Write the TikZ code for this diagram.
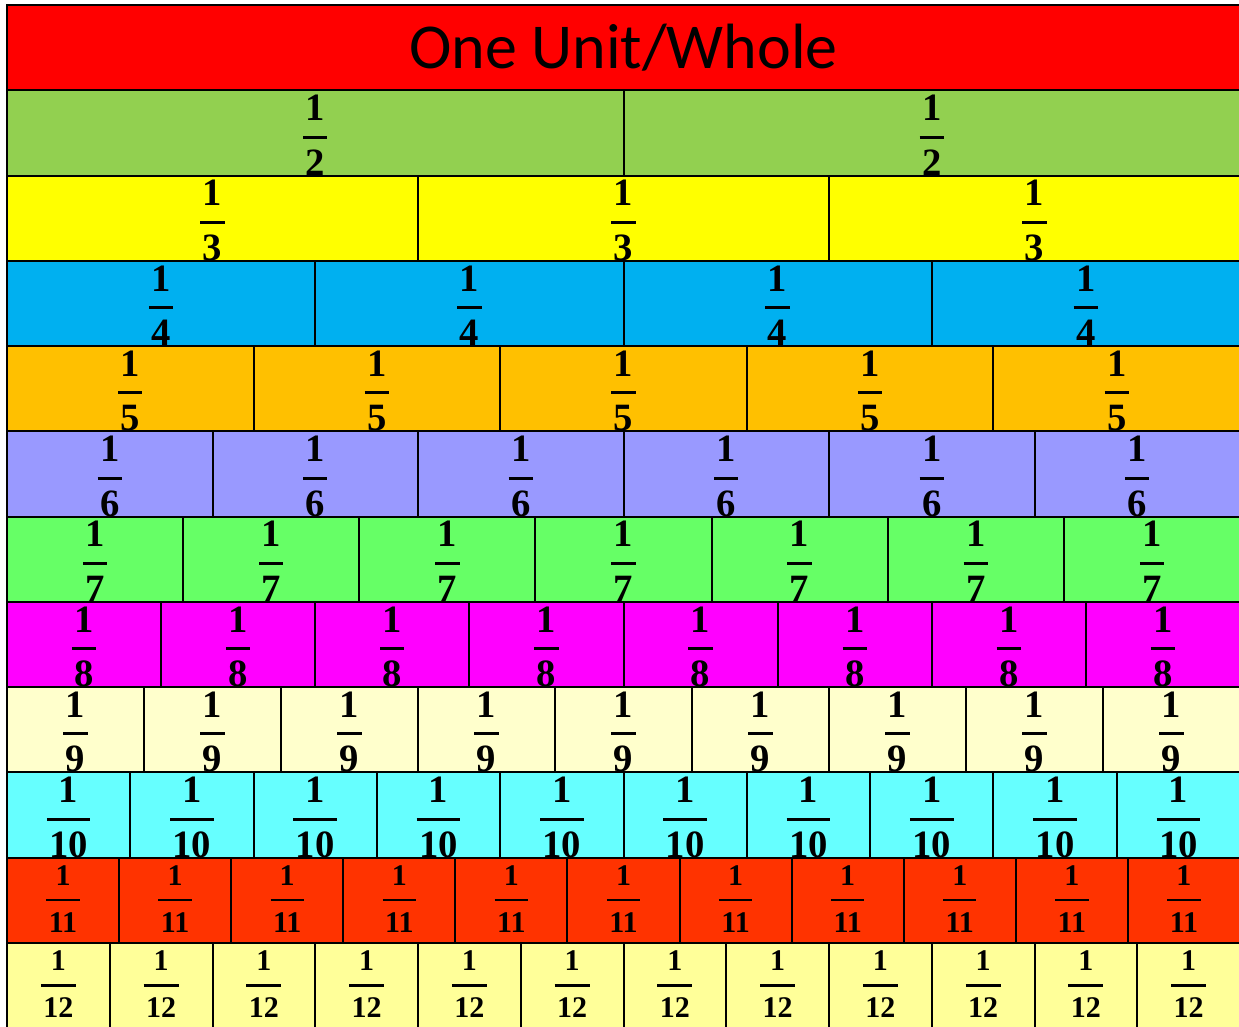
\documentclass[tikz,border=0pt]{standalone}
\usepackage{fontspec}
\setmainfont{Liberation Serif}
\newfontfamily\titlefont{Carlito}
\usetikzlibrary{positioning}

% one pixel of the chart
\newlength\upx \setlength\upx{0.75pt}
\newlength\fdig \newlength\fgapa \newlength\fgapb \newlength\fbar
\newcommand\fracstack[2]{\vbox{\offinterlineskip\halign{\hskip2.5\upx\hfil##\hfil\hskip2.5\upx\cr
  \vrule height\fdig depth0pt width0pt\relax #1\cr
  \noalign{\vskip\fgapa\hrule height\fbar\vskip\fgapb}
  \vrule height\fdig depth0pt width0pt\relax #2\cr}}}

\definecolor{titlered}{HTML}{FF0000}
\definecolor{rowB}{HTML}{92D050}
\definecolor{rowC}{HTML}{FFFF00}
\definecolor{rowD}{HTML}{00B0F0}
\definecolor{rowE}{HTML}{FFC000}
\definecolor{rowF}{HTML}{9999FF}
\definecolor{rowG}{HTML}{66FF66}
\definecolor{rowH}{HTML}{FF00FF}
\definecolor{rowI}{HTML}{FFFFCC}
\definecolor{rowJ}{HTML}{66FFFF}
\definecolor{rowK}{HTML}{FF3300}
\definecolor{rowL}{HTML}{FFFF99}

\begin{document}
\begin{tikzpicture}[
    x=0.75pt, y=-0.75pt,
    cellbox/.style={draw=black, line width=2\upx},
    titletext/.style={inner sep=0pt, anchor=base, font=\titlefont\fontsize{48pt}{48pt}\selectfont},
    bigfrac/.style={inner sep=0pt, anchor=north,
        font={\fontsize{29pt}{29pt}\selectfont\bfseries
              \setlength\fdig{26\upx}\setlength\fgapa{15\upx}\setlength\fgapb{10.5\upx}\setlength\fbar{3\upx}}},
    smallfrac/.style={inner sep=0pt, anchor=north,
        font={\fontsize{22.5pt}{22.5pt}\selectfont\bfseries
              \setlength\fdig{20.5\upx}\setlength\fgapa{13.5\upx}\setlength\fgapb{10.5\upx}\setlength\fbar{2.5\upx}}}
]
\useasboundingbox (0,0) rectangle (1239,1026);

% the whole
\draw[cellbox, fill=titlered] (7,5) rectangle (1240,90.27);
\node[titletext] (title) at (623.5,68) {One Unit/Whole};

% rows of unit fractions
\foreach \n/\col/\fst/\dy in {2/rowB/bigfrac/4, 3/rowC/bigfrac/4, 4/rowD/bigfrac/4,
        5/rowE/bigfrac/4, 6/rowF/bigfrac/4, 7/rowG/bigfrac/4, 8/rowH/bigfrac/4,
        9/rowI/bigfrac/4, 10/rowJ/bigfrac/4, 11/rowK/smallfrac/7, 12/rowL/smallfrac/7} {
  \pgfmathsetmacro\rtop{5+85.27*(\n-1)}
  \pgfmathsetmacro\rbot{\rtop+85.27}
  \foreach \k in {1,...,\n} {
    \pgfmathsetmacro\xl{7+1233*(\k-1)/\n}
    \pgfmathsetmacro\xr{7+1233*\k/\n}
    \draw[cellbox, fill=\col] (\xl,\rtop) rectangle (\xr,\rbot);
    \node[\fst] (f\n-\k) at ({(\xl+\xr)/2},{\rtop+\dy}) {\fracstack{1}{\n}};
  }
}
\end{tikzpicture}
\end{document}
